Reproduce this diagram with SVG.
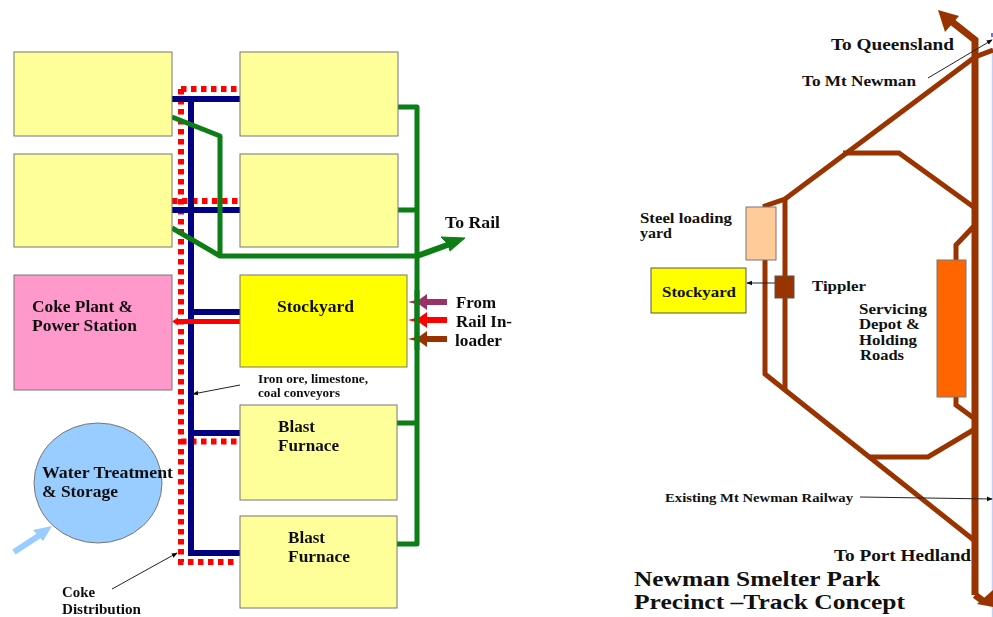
<svg xmlns="http://www.w3.org/2000/svg" width="993" height="617" viewBox="0 0 993 617">
<style>
text{font-family:"Liberation Serif","Times New Roman",serif;font-weight:bold;fill:#111}
.s16{font-size:17px}.s15{font-size:16px}.s13{font-size:14px}.s11{font-size:12px}.s20{font-size:22px}
.box{stroke:#777;stroke-width:1}
.pale{fill:#FFFF99}
.blue{fill:none;stroke:#000080;stroke-width:6}
.reddot{fill:none;stroke:#FF0000;stroke-width:6;stroke-dasharray:5.500 4.500}
.green{fill:none;stroke:#0B7E12;stroke-width:5;stroke-linejoin:round}
.track{fill:none;stroke:#993300;stroke-width:5;stroke-linejoin:miter}
.main{fill:none;stroke:#993300;stroke-width:7}
.thin{fill:none;stroke:#222;stroke-width:1;marker-end:url(#tiny)}
</style>
<defs>
<marker id="tiny" viewBox="0 0 8 8" refX="7" refY="4" markerWidth="6" markerHeight="6" markerUnits="userSpaceOnUse" orient="auto"><path d="M0 0.8L8 4L0 7.2Z" fill="#111"/></marker>
<filter id="soft" x="-5%" y="-5%" width="110%" height="110%"><feGaussianBlur stdDeviation="0.5"/></filter>
</defs>
<rect width="993" height="617" fill="#fff"/>
<g filter="url(#soft)">
<g id="connectors-left">
<path class="reddot" d="M181 89V562H238M181 89H238M172 201H238M181 441.500H238"/>
<path class="blue" d="M191 99V553H240M172 99H240M172 210H240M191 312H240M191 433H240"/>
<path d="M240 321.500H176" fill="none" stroke="#FF0000" stroke-width="5"/>
<path d="M178 317.500L172 321.500L178 325.500Z" fill="#FF0000"/>
<path class="green" d="M172 117L220 136V256M172 228L220 256H417M397 107H417V544H397M397 210H417M397 423H417"/>
<path class="green" d="M417 256L450 244" style="stroke-width:6"/>
<path d="M465 238L441 237L448 244L450 251Z" fill="#0B7E12" stroke="#0B7E12"/>
<path d="M447 302H424" stroke="#993366" stroke-width="6" fill="none"/><path d="M408 302L420 299L427 294V310L420 305Z" fill="#993366"/>
<path d="M447 320H424" stroke="#FF0000" stroke-width="6" fill="none"/><path d="M408 320L420 317L427 312V328L420 323Z" fill="#FF0000"/>
<path d="M447 339H424" stroke="#993300" stroke-width="6" fill="none"/><path d="M408 339L420 336L427 331V347L420 342Z" fill="#993300"/>
<path d="M417 290V350" class="green"/>
<path d="M14 552L40 535" stroke="#99CCFF" stroke-width="6" fill="none"/>
<path d="M52 526L33 530L43 541Z" fill="#99CCFF"/>
<path class="thin" d="M240 385L193 394"/>
<path class="thin" d="M112 589L177 553"/>
</g>
<g id="node-l1"><rect class="box pale" x="14" y="52" width="158" height="84"/></g>
<g id="node-l2"><rect class="box pale" x="14" y="154" width="158" height="93"/></g>
<g id="node-coke"><rect class="box" fill="#FF99CC" x="14" y="275" width="158" height="115"/>
<text class="s15" x="32" y="312" textLength="101" lengthAdjust="spacingAndGlyphs">Coke Plant &amp;</text><text class="s15" x="32" y="331" textLength="105" lengthAdjust="spacingAndGlyphs">Power Station</text></g>
<g id="node-r1"><rect class="box pale" x="240" y="52" width="158" height="84"/></g>
<g id="node-r2"><rect class="box pale" x="240" y="154" width="158" height="93"/></g>
<g id="node-stockyard"><rect class="box" fill="#FFFF00" x="240" y="275" width="167" height="92"/>
<text class="s15" x="277" y="312" textLength="77" lengthAdjust="spacingAndGlyphs">Stockyard</text></g>
<g id="node-bf1"><rect class="box pale" x="240" y="405" width="157" height="95"/>
<text class="s15" x="278" y="432" textLength="37" lengthAdjust="spacingAndGlyphs">Blast</text><text class="s15" x="278" y="451" textLength="61" lengthAdjust="spacingAndGlyphs">Furnace</text></g>
<g id="node-bf2"><rect class="box pale" x="240" y="516" width="157" height="92"/>
<text class="s15" x="288" y="543" textLength="37" lengthAdjust="spacingAndGlyphs">Blast</text><text class="s15" x="288" y="562" textLength="62" lengthAdjust="spacingAndGlyphs">Furnace</text></g>
<g id="node-water"><ellipse class="box" fill="#99CCFF" cx="98" cy="483" rx="64" ry="60"/>
<text class="s15" x="42" y="478" textLength="131" lengthAdjust="spacingAndGlyphs">Water Treatment</text><text class="s15" x="42" y="497" textLength="76" lengthAdjust="spacingAndGlyphs">&amp; Storage</text></g>
<g id="labels-left">
<text class="s16" x="445" y="228" textLength="55" lengthAdjust="spacingAndGlyphs">To Rail</text>
<text class="s15" x="456" y="308" textLength="40" lengthAdjust="spacingAndGlyphs">From</text>
<text class="s15" x="456" y="327" textLength="56" lengthAdjust="spacingAndGlyphs">Rail In-</text>
<text class="s15" x="455" y="346" textLength="47" lengthAdjust="spacingAndGlyphs">loader</text>
<text class="s11" x="258" y="383" textLength="110" lengthAdjust="spacingAndGlyphs">Iron ore, limestone,</text>
<text class="s11" x="258" y="397" textLength="82" lengthAdjust="spacingAndGlyphs">coal conveyors</text>
<text class="s13" x="62" y="597" textLength="33" lengthAdjust="spacingAndGlyphs">Coke</text>
<text class="s13" x="62" y="614" textLength="79" lengthAdjust="spacingAndGlyphs">Distribution</text>
</g>
</g>
<g id="connectors-right">
<path d="M992.500 48V617" stroke="#C6D0F5" stroke-width="1.500" fill="none"/>
<path d="M992 33V37" stroke="#3344EE" stroke-width="1.500" fill="none"/>
<path class="main" d="M975 595V40L951 21"/>
<path d="M938 10L959 16L945 32Z" fill="#993300"/>
<path class="main" d="M975 595L983 601"/>
<path d="M993 607V590L977 604Z" fill="#993300"/>
<path class="track" d="M993 50L975 57L785 199L765 206V374L785 390L975 541"/>
<path class="track" d="M785 199V390"/>
<path class="track" d="M843 153H899L975 208"/>
<path class="track" d="M975 225L956 245V260M956 397V405L975 419"/>
<path class="track" d="M870 457H928L975 429"/>
<path class="thin" d="M775 283H747"/>
<path class="thin" d="M928 78L992 40"/>
<path class="thin" d="M860 497L992 499"/>
</g>
<g id="node-steel"><rect class="box" fill="#FFCC99" x="746" y="207" width="30" height="53"/></g>
<g id="node-stockyard2"><rect fill="#FFFF00" stroke="#555" x="651" y="268" width="95" height="45"/>
<text class="s13" x="662" y="297" textLength="74" lengthAdjust="spacingAndGlyphs">Stockyard</text></g>
<g id="node-tippler"><rect fill="#993300" stroke="#555" x="775" y="276" width="19" height="22"/></g>
<g id="node-depot"><rect class="box" fill="#FF6600" x="937" y="260" width="29" height="137"/></g>
<g id="labels-right">
<text class="s15" x="831" y="50" textLength="123" lengthAdjust="spacingAndGlyphs">To Queensland</text>
<text class="s13" x="802" y="86" textLength="114" lengthAdjust="spacingAndGlyphs">To Mt Newman</text>
<text class="s13" x="640" y="223" textLength="92" lengthAdjust="spacingAndGlyphs">Steel loading</text>
<text class="s13" x="640" y="238" textLength="32" lengthAdjust="spacingAndGlyphs">yard</text>
<text class="s13" x="812" y="291" textLength="54" lengthAdjust="spacingAndGlyphs">Tippler</text>
<text class="s13" x="859" y="314" textLength="68" lengthAdjust="spacingAndGlyphs">Servicing</text>
<text class="s13" x="859" y="329" textLength="61" lengthAdjust="spacingAndGlyphs">Depot &amp;</text>
<text class="s13" x="859" y="345" textLength="58" lengthAdjust="spacingAndGlyphs">Holding</text>
<text class="s13" x="860" y="360" textLength="44" lengthAdjust="spacingAndGlyphs">Roads</text>
<text class="s11" x="665" y="502" textLength="188" lengthAdjust="spacingAndGlyphs">Existing Mt Newman Railway</text>
<text class="s15" x="834" y="561" textLength="137" lengthAdjust="spacingAndGlyphs">To Port Hedland</text>
<text class="s20" x="634" y="586" textLength="246" lengthAdjust="spacingAndGlyphs">Newman Smelter Park</text>
<text class="s20" x="634" y="609" textLength="271" lengthAdjust="spacingAndGlyphs">Precinct –Track Concept</text>
</g>
</svg>
